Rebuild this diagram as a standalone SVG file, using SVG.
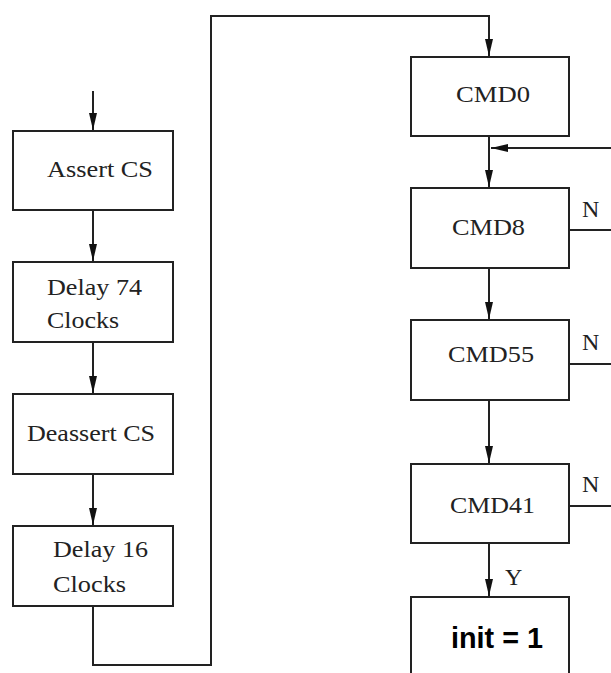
<svg xmlns="http://www.w3.org/2000/svg" width="611" height="673" viewBox="0 0 611 673">
<style>
.box{fill:#fff;stroke:#222;stroke-width:2}
.ln{fill:none;stroke:#222;stroke-width:2}
.t{font-family:"Liberation Serif","Times New Roman",serif;font-size:24px;fill:#222}
.s{font-family:"Liberation Sans",Arial,sans-serif;font-size:30px;font-weight:bold;fill:#000}
</style>
<defs>
<marker id="ah" markerUnits="userSpaceOnUse" markerWidth="18" markerHeight="9" refX="17" refY="4.5" orient="auto">
<path d="M0,0.5 L17,4.5 L0,8.5 z" fill="#111"/>
</marker>
</defs>
<rect width="611" height="673" fill="#fff"/>
<g id="connectors">
<path class="ln" d="M93,91 V130" marker-end="url(#ah)"/>
<path class="ln" d="M93,210 V261" marker-end="url(#ah)"/>
<path class="ln" d="M93,342 V393" marker-end="url(#ah)"/>
<path class="ln" d="M93,474 V525" marker-end="url(#ah)"/>
<path class="ln" d="M93,606 V665 H211 V16 H489 V56" marker-end="url(#ah)"/>
<path class="ln" d="M489,136 V187" marker-end="url(#ah)"/>
<path class="ln" d="M611,148 H491" marker-end="url(#ah)"/>
<path class="ln" d="M569,230 H611"/>
<path class="ln" d="M489,268 V319" marker-end="url(#ah)"/>
<path class="ln" d="M569,364 H611"/>
<path class="ln" d="M489,400 V463" marker-end="url(#ah)"/>
<path class="ln" d="M569,506 H611"/>
<path class="ln" d="M489,543 V596" marker-end="url(#ah)"/>
<text class="t" x="582" y="217">N</text>
<text class="t" x="582" y="350">N</text>
<text class="t" x="582" y="492">N</text>
<text class="t" x="505" y="585">Y</text>
</g>
<g id="assert-cs">
<rect class="box" x="13" y="131" width="160" height="79"/>
<text class="t" x="47" y="177" textLength="106" lengthAdjust="spacingAndGlyphs">Assert CS</text>
</g>
<g id="delay-74">
<rect class="box" x="13" y="262" width="160" height="80"/>
<text class="t" x="47" y="295" textLength="95" lengthAdjust="spacingAndGlyphs">Delay 74</text>
<text class="t" x="47" y="328" textLength="72" lengthAdjust="spacingAndGlyphs">Clocks</text>
</g>
<g id="deassert-cs">
<rect class="box" x="13" y="394" width="160" height="80"/>
<text class="t" x="27" y="441" textLength="128" lengthAdjust="spacingAndGlyphs">Deassert CS</text>
</g>
<g id="delay-16">
<rect class="box" x="13" y="526" width="160" height="80"/>
<text class="t" x="53" y="557" textLength="95" lengthAdjust="spacingAndGlyphs">Delay 16</text>
<text class="t" x="53" y="592" textLength="73" lengthAdjust="spacingAndGlyphs">Clocks</text>
</g>
<g id="cmd0">
<rect class="box" x="411" y="57" width="158" height="79"/>
<text class="t" x="456" y="102" textLength="74" lengthAdjust="spacingAndGlyphs">CMD0</text>
</g>
<g id="cmd8">
<rect class="box" x="411" y="188" width="158" height="80"/>
<text class="t" x="452" y="235" textLength="73" lengthAdjust="spacingAndGlyphs">CMD8</text>
</g>
<g id="cmd55">
<rect class="box" x="411" y="320" width="158" height="80"/>
<text class="t" x="448" y="362" textLength="86" lengthAdjust="spacingAndGlyphs">CMD55</text>
</g>
<g id="cmd41">
<rect class="box" x="411" y="464" width="158" height="79"/>
<text class="t" x="450" y="513" textLength="85" lengthAdjust="spacingAndGlyphs">CMD41</text>
</g>
<g id="init">
<rect class="box" x="411" y="597" width="158" height="90"/>
<text class="s" x="451" y="648" textLength="92" lengthAdjust="spacingAndGlyphs">init = 1</text>
</g>
</svg>
